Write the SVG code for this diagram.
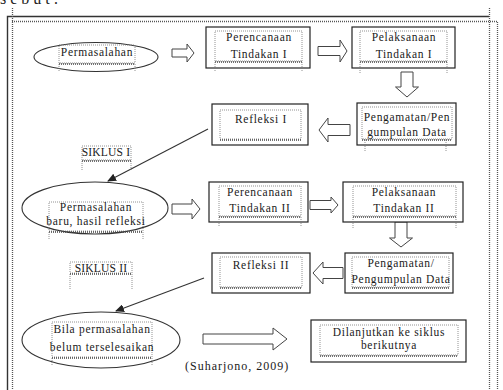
<svg xmlns="http://www.w3.org/2000/svg" width="503" height="390" viewBox="0 0 503 390">
<style>
.bg{fill:#fff}
.frame{fill:none;stroke:#333;stroke-width:1.4}
.dot{fill:none;stroke:#555;stroke-width:1.3;stroke-dasharray:1 1}
.box{fill:#fff;stroke:#222;stroke-width:1.2}
.ell{fill:#fff;stroke:#333;stroke-width:1.1}
.tb{fill:none;stroke:#777;stroke-width:0.8;stroke-dasharray:1 1}
.tb2{fill:none;stroke:#444;stroke-width:1.6;stroke-dasharray:1 1}
.t{font-family:"Liberation Serif","Times New Roman",serif;font-size:11.5px;letter-spacing:0.7px;fill:#1a1a1a;text-anchor:middle}
.arr{fill:#fff;stroke:#444;stroke-width:1}
.con{fill:none;stroke:#333;stroke-width:1.1}
</style>
<defs>
<marker id="ah" markerUnits="userSpaceOnUse" markerWidth="9" markerHeight="8" refX="8" refY="4" orient="auto">
<path d="M0,0 L9,4 L0,8 z" fill="#222"/>
</marker>
</defs>
<rect class="bg" x="0" y="0" width="503" height="390"/>
<text x="0" y="4" style="font-family:'Liberation Serif',serif;font-size:16px;letter-spacing:4px;fill:#222">sebut:</text>
<g id="frame">
<path class="frame" d="M7.5,390 V16.5 H489"/>
<path class="dot" d="M12.5,8 V390"/>
<path class="dot" d="M12,21.5 H497.5 V390"/>
<path class="dot" d="M489.5,8 V390"/>
</g>
<g id="connectors">
<polygon class="arr" points="172,49 187,49 187,44 194,53 187,62 187,57 172,57"/>
<polygon class="arr" points="318,46.5 340,46.5 340,40 347,51 340,62 340,55.5 318,55.5"/>
<polygon class="arr" points="401,72 413,72 413,87 418.5,87 407,97 395.5,87 401,87"/>
<polygon class="arr" points="350,124.5 328,124.5 328,118 319,130 328,142 328,135.5 350,135.5"/>
<polygon class="arr" points="172,204 192,204 192,199 200,209 192,219 192,214 172,214"/>
<polygon class="arr" points="310,200.5 331,200.5 331,197 338,205 331,213 331,209.5 310,209.5"/>
<polygon class="arr" points="395,222 407,222 407,238 412.5,238 401,247 389.5,238 395,238"/>
<polygon class="arr" points="343,267.5 323,267.5 323,262 313,273 323,284 323,278.5 343,278.5"/>
<polygon class="arr" points="203,334 273,334 273,328 287,339 273,350 273,344 203,344"/>
<line class="con" x1="208" y1="129" x2="108" y2="181" marker-end="url(#ah)"/>
<line class="con" x1="204" y1="278" x2="116" y2="311" marker-end="url(#ah)"/>
</g>
<g id="n1">
<ellipse class="ell" cx="96" cy="57" rx="62" ry="14.5"/>
<rect class="tb" x="59" y="45" width="76" height="18"/>
<path class="tb2" d="M59,64 H135"/>
<path class="tb" d="M59,64 V72 M135,64 V72"/>
<text class="t" x="97" y="56">Permasalahan</text>
</g>
<g id="n2">
<rect class="box" x="206" y="27" width="104" height="41"/>
<rect class="tb" x="215" y="31" width="87" height="30"/>
<path class="tb2" d="M215,62 H302"/>
<path class="tb" d="M215,62 V72 M302,62 V72"/>
<text class="t" x="259" y="41">Perencanaan</text>
<text class="t" x="259" y="58">Tindakan I</text>
</g>
<g id="n3">
<rect class="box" x="352" y="27" width="103" height="41"/>
<rect class="tb" x="360" y="31" width="87" height="30"/>
<path class="tb2" d="M360,62 H447"/>
<path class="tb" d="M360,62 V73 M447,62 V73"/>
<text class="t" x="404" y="41">Pelaksanaan</text>
<text class="t" x="404" y="58">Tindakan I</text>
</g>
<g id="n4">
<rect class="box" x="357" y="103" width="99" height="42"/>
<rect class="tb" x="362" y="107" width="90" height="32"/>
<path class="tb2" d="M362,140 H452"/>
<path class="tb" d="M365,140 V152 M446,140 V152"/>
<text class="t" x="407" y="121">Pengamatan/Pen</text>
<text class="t" x="407" y="136">gumpulan Data</text>
</g>
<g id="n5">
<rect class="box" x="212" y="104" width="96" height="41"/>
<rect class="tb" x="220" y="110" width="81" height="29"/>
<path class="tb2" d="M220,140 H301"/>
<text class="t" x="261" y="123">Refleksi I</text>
</g>
<g id="n6">
<rect class="tb" x="82" y="146" width="49" height="14"/>
<path class="tb2" d="M82,161 H131"/>
<path class="tb" d="M82,161 V170 M131,161 V170"/>
<text class="t" x="106" y="156" style="letter-spacing:0.2px">SIKLUS I</text>
</g>
<g id="n7">
<ellipse class="ell" cx="95" cy="208" rx="73" ry="26"/>
<rect class="tb" x="49" y="202" width="94" height="29"/>
<path class="tb2" d="M49,232 H143"/>
<path class="tb" d="M49,232 V240 M143,232 V240"/>
<text class="t" x="96" y="211">Permasalahan</text>
<text class="t" x="96" y="225">baru, hasil refleksi</text>
</g>
<g id="n8">
<rect class="box" x="209" y="182" width="99" height="40"/>
<rect class="tb" x="219" y="186" width="82" height="30"/>
<path class="tb2" d="M219,217 H301"/>
<path class="tb" d="M219,217 V227 M301,217 V227"/>
<text class="t" x="260" y="196">Perencanaan</text>
<text class="t" x="260" y="212">Tindakan II</text>
</g>
<g id="n9">
<rect class="box" x="343" y="182" width="120" height="40"/>
<rect class="tb" x="353" y="186" width="103" height="30"/>
<path class="tb2" d="M353,217 H456"/>
<path class="tb" d="M353,217 V228 M456,217 V228"/>
<text class="t" x="404" y="196">Pelaksanaan</text>
<text class="t" x="404" y="212">Tindakan II</text>
</g>
<g id="n10">
<rect class="box" x="345" y="253" width="108" height="40"/>
<rect class="tb" x="352" y="257" width="97" height="30"/>
<path class="tb2" d="M352,288 H449"/>
<text class="t" x="401" y="267">Pengamatan/</text>
<text class="t" x="401" y="283">Pengumpulan Data</text>
</g>
<g id="n11">
<rect class="box" x="212" y="253" width="98" height="40"/>
<rect class="tb" x="220" y="257" width="82" height="30"/>
<path class="tb2" d="M220,288 H302"/>
<text class="t" x="261" y="269">Refleksi II</text>
</g>
<g id="n12">
<rect class="tb" x="70" y="262" width="62" height="11"/>
<path class="tb2" d="M70,274 H132"/>
<path class="tb" d="M70,274 V289 M132,274 V289"/>
<text class="t" x="101" y="272" style="letter-spacing:0.2px">SIKLUS II</text>
</g>
<g id="n13">
<ellipse class="ell" cx="101" cy="340" rx="79" ry="28"/>
<rect class="tb" x="52" y="322" width="100" height="35"/>
<path class="tb2" d="M52,358 H152"/>
<path class="tb" d="M52,358 V365 M152,358 V365"/>
<text class="t" x="102" y="333">Bila permasalahan</text>
<text class="t" x="102" y="351">belum terselesaikan</text>
</g>
<g id="n14">
<rect class="box" x="311" y="320" width="155" height="42"/>
<rect class="tb" x="320" y="325" width="138" height="30"/>
<path class="tb2" d="M320,356 H458"/>
<text class="t" x="389" y="336">Dilanjutkan ke siklus</text>
<text class="t" x="389" y="349">berikutnya</text>
</g>
<g id="source">
<text x="185" y="370" style="font-family:'Liberation Serif',serif;font-size:12px;letter-spacing:1px;fill:#1a1a1a">(Suharjono, 2009)</text>
</g>
</svg>
